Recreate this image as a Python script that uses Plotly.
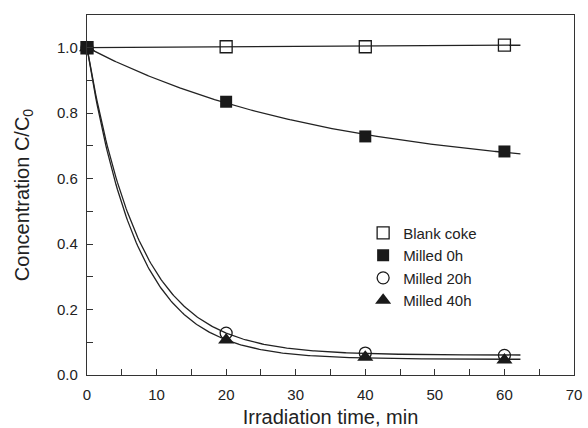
import numpy as np
import plotly.graph_objects as go

time_min = [0, 20, 40, 60]
blank_coke = [1.0, 1.003, 1.003, 1.008]
milled_0h = [1.0, 0.835, 0.729, 0.683]
milled_20h = [1.0, 0.128, 0.067, 0.060]
milled_40h = [1.0, 0.107, 0.054, 0.046]
fit_end = 62.3

t = np.array(time_min, dtype=float)
tt = np.linspace(0, fit_end, 300)


def exp_fit(y):
    y = np.array(y, dtype=float)
    best = None
    for k in np.linspace(0.001, 0.5, 5000):
        A = np.column_stack([np.ones_like(t), np.exp(-k * t)])
        coef, res, *_ = np.linalg.lstsq(A, y, rcond=None)
        r = np.sum((A @ coef - y) ** 2)
        if best is None or r < best[0]:
            best = (r, k, coef)
    _, k, coef = best
    return coef[0] + coef[1] * np.exp(-k * tt)


def poly_fit(y):
    p = np.polyfit(t, np.array(y, dtype=float), 2)
    return np.polyval(p, tt)


FONT = "Liberation Sans, Arial, sans-serif"
INK = "#1a1a1a"

series = [
    ("Blank coke", blank_coke, dict(symbol="square-open", size=12, color=INK, line=dict(width=1.3, color=INK)), poly_fit),
    ("Milled 0h", milled_0h, dict(symbol="square", size=12, color=INK), exp_fit),
    ("Milled 20h", milled_20h, dict(symbol="circle-open", size=12, color=INK, line=dict(width=1.3, color=INK)), exp_fit),
    ("Milled 40h", milled_40h, dict(symbol="triangle-up", size=14, color=INK), exp_fit),
]

fig = go.Figure()
for name, y, mk, fitter in series:
    fig.add_trace(go.Scatter(x=tt, y=fitter(y), mode="lines", showlegend=False,
                             line=dict(color="#222222", width=1.3), hoverinfo="skip", cliponaxis=False))
for name, y, mk, fitter in series:
    fig.add_trace(go.Scatter(x=time_min, y=y, mode="markers", name=name, marker=mk,
                             cliponaxis=False, legendgroup=name))

axis_common = dict(showline=True, linecolor="#333333", linewidth=1.2, mirror=True,
                   ticks="inside", ticklen=6, tickwidth=1, tickcolor="#333333",
                   showgrid=False, zeroline=False, automargin=False,
                   tickfont=dict(family=FONT, size=15, color="#222222"))

fig.update_xaxes(range=[0, 70], dtick=10, tick0=0, ticklabelstandoff=6,
                 minor=dict(dtick=5, ticks="inside", ticklen=6, tickcolor="#333333"),
                 title=dict(text="Irradiation time, min", font=dict(family=FONT, size=20, color="#222222"), standoff=16),
                 **axis_common)
fig.update_yaxes(range=[0, 1.1], dtick=0.2, tick0=0, tickformat=".1f", ticklabelstandoff=5,
                 minor=dict(dtick=0.1, ticks="inside", ticklen=6, tickcolor="#333333"),
                 title=dict(text="Concentration C/C<sub>0</sub>", font=dict(family=FONT, size=20, color="#222222"), standoff=22),
                 **axis_common)

fig.update_layout(
    width=588, height=428,
    margin=dict(l=87, r=14, t=15, b=53),
    paper_bgcolor="white", plot_bgcolor="white",
    font=dict(family=FONT, color="#222222"),
    legend=dict(x=0.567, y=0.44, xanchor="left", yanchor="top",
                font=dict(family=FONT, size=15, color="#222222"),
                bgcolor="rgba(0,0,0,0)", tracegroupgap=0),
)

fig.write_html("out.html")
